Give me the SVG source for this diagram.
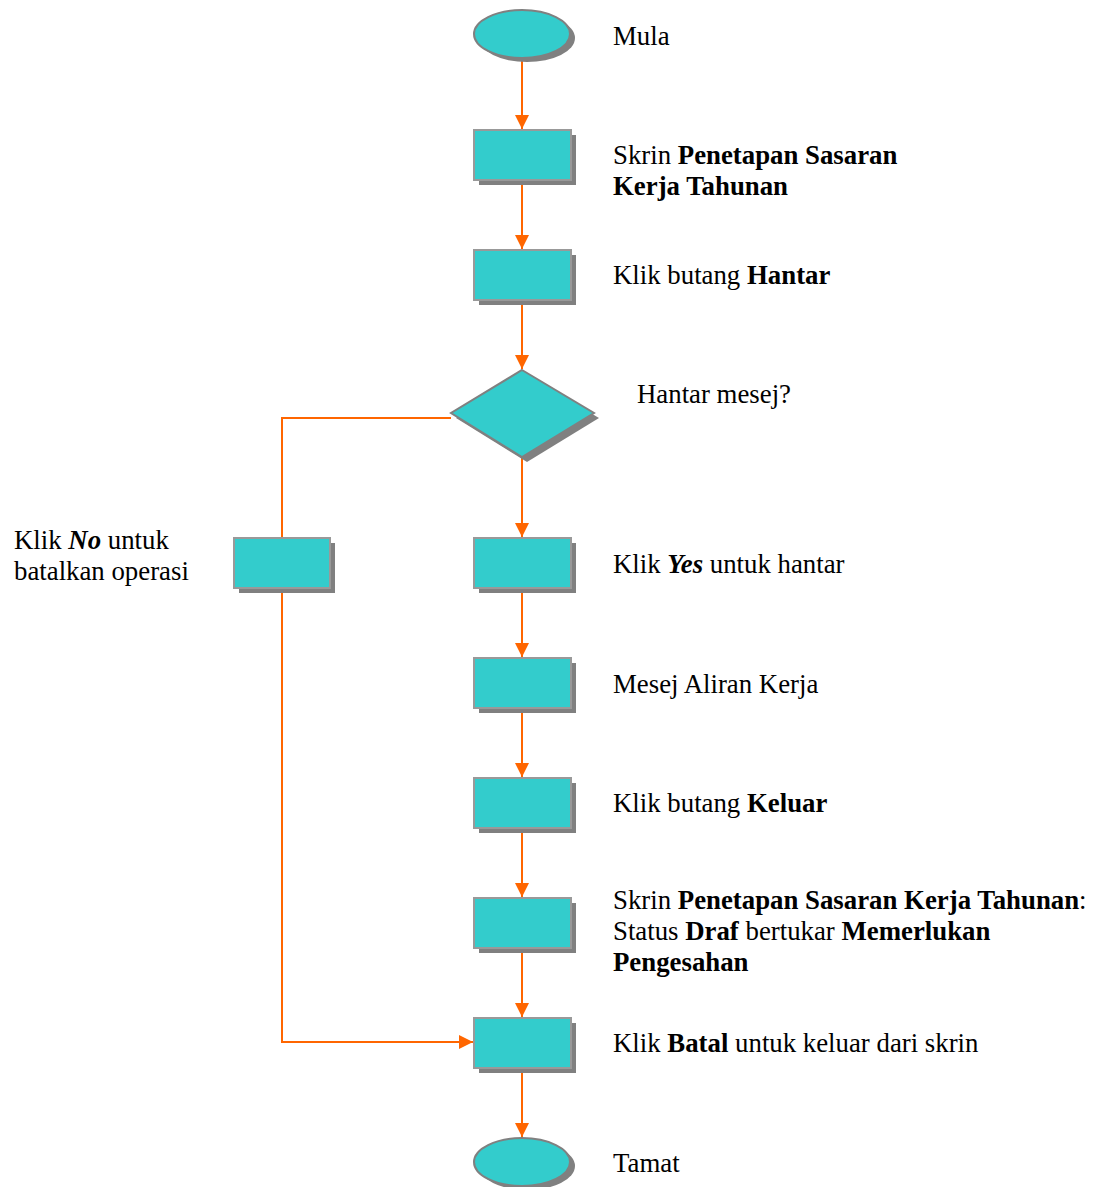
<svg xmlns="http://www.w3.org/2000/svg" width="1093" height="1187" viewBox="0 0 1093 1187">
<style>
.sh{fill:#808080}
.nd{fill:#33CCCC;stroke:#999999;stroke-width:2}
.dm{fill:#33CCCC;stroke:#808080;stroke-width:2}
.ln{fill:none;stroke:#FF6600;stroke-width:2}
text{font-family:'Liberation Serif','Times New Roman',serif;font-size:26.8px;fill:#000}
.b{font-weight:bold}
.bi{font-weight:bold;font-style:italic}
</style>
<defs>
<marker id="ah" markerWidth="14" markerHeight="14" refX="14" refY="7" orient="auto" markerUnits="userSpaceOnUse">
<path d="M0,0 L14,7 L0,14 Z" fill="#FF6600"/>
</marker>
</defs>
<rect width="1093" height="1187" fill="#fff"/>
<g id="connectors">
<line class="ln" x1="522" y1="58" x2="522" y2="129" marker-end="url(#ah)"/>
<line class="ln" x1="522" y1="180" x2="522" y2="249" marker-end="url(#ah)"/>
<line class="ln" x1="522" y1="300" x2="522" y2="369" marker-end="url(#ah)"/>
<line class="ln" x1="522" y1="457" x2="522" y2="537" marker-end="url(#ah)"/>
<line class="ln" x1="522" y1="588" x2="522" y2="657" marker-end="url(#ah)"/>
<line class="ln" x1="522" y1="708" x2="522" y2="777" marker-end="url(#ah)"/>
<line class="ln" x1="522" y1="828" x2="522" y2="897" marker-end="url(#ah)"/>
<line class="ln" x1="522" y1="948" x2="522" y2="1017" marker-end="url(#ah)"/>
<line class="ln" x1="522" y1="1068" x2="522" y2="1137" marker-end="url(#ah)"/>
<polyline class="ln" points="451,418 282,418 282,538"/>
<polyline class="ln" points="282,588 282,1042 473,1042" marker-end="url(#ah)"/>
</g>
<g id="n-mula">
<ellipse class="sh" cx="527" cy="38" rx="48" ry="24"/>
<ellipse class="dm" cx="522" cy="34" rx="48" ry="24"/>
<text x="613" y="45">Mula</text>
</g>
<g id="n-skrin">
<rect class="sh" x="479" y="135" width="97" height="50"/>
<rect class="nd" x="474" y="130" width="97" height="50"/>
<text x="613" y="164">Skrin <tspan class="b">Penetapan Sasaran</tspan></text>
<text x="613" y="195" class="b">Kerja Tahunan</text>
</g>
<g id="n-hantar">
<rect class="sh" x="479" y="255" width="97" height="50"/>
<rect class="nd" x="474" y="250" width="97" height="50"/>
<text x="613" y="284">Klik butang <tspan class="b">Hantar</tspan></text>
</g>
<g id="n-decision">
<polygon class="sh" points="527,375 599,418 527,462 456,418"/>
<polygon class="dm" points="522,370 594,413 522,457 451,413"/>
<text x="637" y="403">Hantar mesej?</text>
</g>
<g id="n-no">
<rect class="sh" x="239" y="543" width="96" height="50"/>
<rect class="nd" x="234" y="538" width="96" height="50"/>
<text x="14" y="549">Klik <tspan class="bi">No</tspan> untuk</text>
<text x="14" y="580">batalkan operasi</text>
</g>
<g id="n-yes">
<rect class="sh" x="479" y="543" width="97" height="50"/>
<rect class="nd" x="474" y="538" width="97" height="50"/>
<text x="613" y="573">Klik <tspan class="bi">Yes</tspan> untuk hantar</text>
</g>
<g id="n-mesej">
<rect class="sh" x="479" y="663" width="97" height="50"/>
<rect class="nd" x="474" y="658" width="97" height="50"/>
<text x="613" y="693">Mesej Aliran Kerja</text>
</g>
<g id="n-keluar">
<rect class="sh" x="479" y="783" width="97" height="50"/>
<rect class="nd" x="474" y="778" width="97" height="50"/>
<text x="613" y="812">Klik butang <tspan class="b">Keluar</tspan></text>
</g>
<g id="n-status">
<rect class="sh" x="479" y="903" width="97" height="50"/>
<rect class="nd" x="474" y="898" width="97" height="50"/>
<text x="613" y="909">Skrin <tspan class="b">Penetapan Sasaran Kerja Tahunan</tspan>:</text>
<text x="613" y="940">Status <tspan class="b">Draf</tspan> bertukar <tspan class="b">Memerlukan</tspan></text>
<text x="613" y="971" class="b">Pengesahan</text>
</g>
<g id="n-batal">
<rect class="sh" x="479" y="1023" width="97" height="50"/>
<rect class="nd" x="474" y="1018" width="97" height="50"/>
<text x="613" y="1052">Klik <tspan class="b">Batal</tspan> untuk keluar dari skrin</text>
</g>
<g id="n-tamat">
<ellipse class="sh" cx="527" cy="1166" rx="48" ry="24"/>
<ellipse class="dm" cx="522" cy="1162" rx="48" ry="24"/>
<text x="613" y="1172">Tamat</text>
</g>
</svg>
